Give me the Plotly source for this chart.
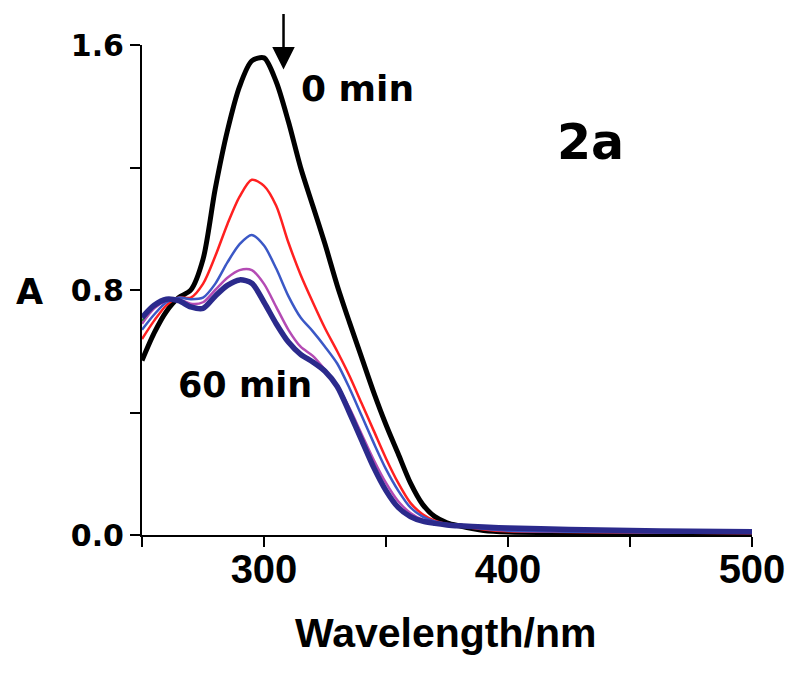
import plotly.graph_objects as go

wavelength = [250, 255, 260, 265, 270, 275, 280, 285, 290, 295, 300, 305, 310, 315, 320,
              325, 330, 335, 340, 345, 350, 355, 360, 365, 370, 375, 380, 390, 400, 425,
              450, 475, 500]

a_0min = [0.57, 0.66, 0.73, 0.775, 0.80, 0.90, 1.13, 1.32, 1.465, 1.548, 1.558, 1.48, 1.35,
          1.20, 1.075, 0.95, 0.815, 0.695, 0.58, 0.465, 0.36, 0.265, 0.17, 0.10, 0.06, 0.04,
          0.03, 0.015, 0.01, 0.008, 0.007, 0.006, 0.005]
a_red = [0.64, 0.70, 0.75, 0.775, 0.775, 0.82, 0.91, 1.015, 1.105, 1.16, 1.14, 1.075, 0.955,
         0.85, 0.76, 0.675, 0.60, 0.52, 0.43, 0.34, 0.25, 0.17, 0.105, 0.068, 0.047, 0.036,
         0.029, 0.018, 0.012, 0.01, 0.008, 0.007, 0.006]
a_blue = [0.67, 0.72, 0.76, 0.775, 0.77, 0.775, 0.82, 0.89, 0.95, 0.98, 0.945, 0.87, 0.78,
          0.71, 0.665, 0.615, 0.56, 0.48, 0.39, 0.30, 0.215, 0.145, 0.09, 0.06, 0.044, 0.035,
          0.029, 0.02, 0.014, 0.011, 0.009, 0.008, 0.007]
a_magenta = [0.69, 0.74, 0.765, 0.77, 0.755, 0.76, 0.80, 0.84, 0.865, 0.865, 0.82, 0.745,
             0.67, 0.615, 0.585, 0.54, 0.49, 0.415, 0.33, 0.245, 0.17, 0.11, 0.072, 0.05,
             0.04, 0.034, 0.029, 0.024, 0.02, 0.015, 0.012, 0.01, 0.009]
a_green = [0.70, 0.745, 0.768, 0.765, 0.748, 0.742, 0.78, 0.815, 0.835, 0.825, 0.765, 0.695,
           0.635, 0.595, 0.568, 0.536, 0.487, 0.405, 0.315, 0.225, 0.15, 0.095, 0.062,
           0.046, 0.038, 0.033, 0.029, 0.025, 0.022, 0.017, 0.014, 0.011, 0.01]
a_60min = [0.71, 0.75, 0.77, 0.765, 0.745, 0.74, 0.78, 0.815, 0.833, 0.822, 0.76, 0.69,
           0.63, 0.59, 0.565, 0.535, 0.485, 0.40, 0.31, 0.22, 0.145, 0.09, 0.06, 0.045,
           0.038, 0.033, 0.03, 0.026, 0.023, 0.018, 0.015, 0.012, 0.011]

x_tickvals = [250, 300, 350, 400, 450, 500]
x_ticktext = ["", "300", "", "400", "", "500"]
y_tickvals = [0, 0.4, 0.8, 1.2, 1.6]
y_ticktext = ["0.0", "", "0.8", "", "1.6"]

series = [
    ("0 min", a_0min, "#000000", 5),
    ("red", a_red, "#ff2020", 2.5),
    ("blue", a_blue, "#3b58c6", 2.5),
    ("magenta", a_magenta, "#b44bb4", 2.5),
    ("green", a_green, "#2e8b3a", 2),
    ("60 min", a_60min, "#2b2a8c", 5.5),
]

fig = go.Figure()
for name, vals, color, w in series:
    fig.add_trace(go.Scatter(x=wavelength, y=vals, mode="lines", name=name,
                             line=dict(color=color, width=w, shape="spline", smoothing=0.8),
                             showlegend=False))

bold_dv = dict(family="DejaVu Sans", color="black", weight="bold")
bold_lib = dict(family="Liberation Sans", color="black", weight="bold")

fig.update_layout(
    width=800, height=673,
    margin=dict(l=134, r=56, t=37, b=146),
    paper_bgcolor="white", plot_bgcolor="white",
    xaxis=dict(range=[250, 500], tickvals=x_tickvals, ticktext=x_ticktext,
               ticks="outside", ticklen=10, tickwidth=2, tickcolor="black",
               showline=True, linecolor="black", linewidth=2, showgrid=False,
               zeroline=False, tickfont=dict(size=40, **bold_lib),
               ticklabelstandoff=-12),
    yaxis=dict(range=[0, 1.6], tickvals=y_tickvals, ticktext=y_ticktext,
               ticks="outside", ticklen=10, tickwidth=2, tickcolor="black",
               showline=True, linecolor="black", linewidth=2, showgrid=False,
               zeroline=False, tickfont=dict(size=30, **bold_dv)),
)

annotations = [
    dict(text="0 min", x=0.354, y=0.911, font=dict(size=36, **bold_dv)),
    dict(text="60 min", x=0.169, y=0.307, font=dict(size=35, **bold_dv)),
    dict(text="2a", x=0.736, y=0.801, font=dict(size=49, **bold_dv)),
    dict(text="A", x=-0.185, y=0.495, font=dict(size=35, **bold_dv)),
    dict(text="Wavelength/nm", x=0.497, y=-0.201, font=dict(size=41, **bold_lib)),
]
for a in annotations:
    fig.add_annotation(xref="paper", yref="paper", showarrow=False,
                       xanchor="center", yanchor="middle", **a)

fig.add_annotation(x=308, y=1.52, xref="x", yref="y", text="", showarrow=True,
                   ax=0, ay=-57, arrowhead=2, arrowsize=1.8, arrowwidth=2.5,
                   arrowcolor="black")

fig.write_html("out.html")
